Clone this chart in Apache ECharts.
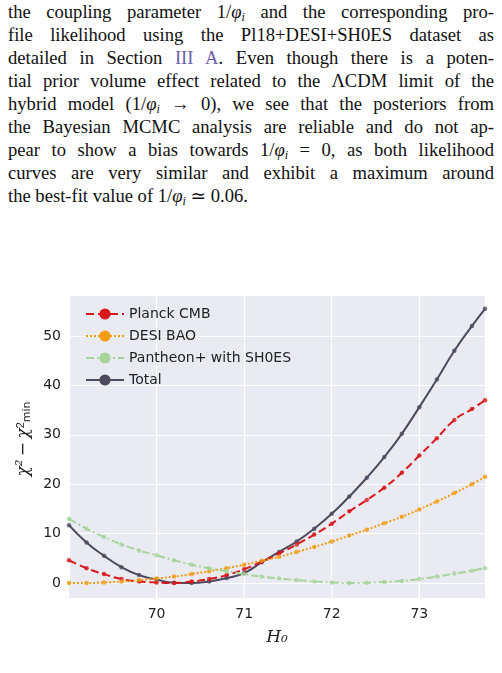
<!DOCTYPE html>
<html><head><meta charset="utf-8">
<script src="https://cdn.jsdelivr.net/npm/echarts@6/dist/echarts.min.js"></script>
<style>
body{margin:0;background:#fff;width:502px;height:673px;overflow:hidden}
#txt{position:absolute;left:8px;top:0;width:486px;font-family:"Liberation Serif","DejaVu Serif",serif;font-size:18.6px;line-height:23px;color:#111}
#txt div{height:23px;text-align:justify;text-align-last:justify;white-space:nowrap;overflow:hidden}
#txt div.last{text-align-last:left}
#txt sub{font-size:12px;line-height:0;vertical-align:-3px}
.ref{color:#6a5fa8}
#chart{position:absolute;left:0;top:280px;width:502px;height:393px}
</style></head><body>
<div id="txt">
<div>the coupling parameter 1/<i>φ<sub>i</sub></i> and the corresponding pro-</div>
<div>file likelihood using the Pl18+DESI+SH0ES dataset as</div>
<div>detailed in Section <span class="ref">III A</span>. Even though there is a poten-</div>
<div>tial prior volume effect related to the ΛCDM limit of the</div>
<div>hybrid model (1/<i>φ<sub>i</sub></i> → 0), we see that the posteriors from</div>
<div>the Bayesian MCMC analysis are reliable and do not ap-</div>
<div>pear to show a bias towards 1/<i>φ<sub>i</sub></i> = 0, as both likelihood</div>
<div>curves are very similar and exhibit a maximum around</div>
<div class="last">the best-fit value of 1/<i>φ<sub>i</sub></i> ≃ 0.06.</div>
</div>
<div id="chart"></div>
<script>
const h0 = [69.0,69.2,69.4,69.6,69.8,70.0,70.2,70.4,70.6,70.8,71.0,71.2,71.4,71.6,71.8,72.0,72.2,72.4,72.6,72.8,73.0,73.2,73.4,73.6,73.75];
const planck = [4.6,3.0,1.8,0.8,0.3,0.1,0,0.3,0.8,1.6,2.8,4.3,6.0,7.8,9.8,12.0,14.5,16.8,19.3,22.3,25.8,29.3,33.0,35.2,37.0];
const desi = [0,0,0.1,0.3,0.6,0.9,1.3,1.8,2.4,3.0,3.7,4.5,5.3,6.3,7.3,8.4,9.6,10.8,12.1,13.4,14.9,16.5,18.2,20.0,21.5];
const pantheon = [13.0,11.0,9.3,7.8,6.6,5.6,4.6,3.7,3.0,2.4,1.8,1.3,0.9,0.6,0.3,0.1,0,0.05,0.2,0.4,0.8,1.3,1.9,2.5,3.0];
const total = [11.7,8.2,5.5,3.2,1.6,0.7,0.05,0,0.3,1.0,2.0,4.2,6.3,8.4,11.0,14.0,17.5,21.3,25.5,30.2,35.6,41.2,47.0,52.0,55.5];
const xTicks = [70,71,72,73];
const names = ['Planck CMB','DESI BAO','Pantheon+ with SH0ES','Total'];
const colors = ['#d7191c','#f39c12','#a6d49a','#4d4a5e'];
const styles = ['dashed','dotted',[8,3,2,3],'solid'];
const values = [planck, desi, pantheon, total];

const chart = echarts.init(document.getElementById('chart'));
const font = 'DejaVu Sans, sans-serif';
const G = {left:69, top:15, width:416, height:288, extra:15};

const lines = names.map((n,i)=>({
  name:n,type:'line',smooth:true,symbol:'none',
  lineStyle:{color:colors[i],type:styles[i],width:2},
  itemStyle:{color:colors[i]},
  z: i===3?3:4,
  data:h0.map((x,j)=>[x,values[i][j]])
}));
const dots = names.map((n,i)=>({
  name:n+' pts',type:'scatter',symbolSize:4.5,clip:false,
  itemStyle:{color:colors[i]},z: i===3?3:4,
  data:h0.map((x,j)=>[x,values[i][j]])
}));

chart.setOption({
  animation:false,
  grid:{left:G.left,top:G.top,width:G.width,height:G.height,show:false},
  legend:{left:80,top:22,orient:'vertical',itemGap:8,itemWidth:38,itemHeight:14,
    textStyle:{fontFamily:font,fontSize:14,color:'#222'},data:names},
  xAxis:{type:'value',min:69.0,max:73.75,interval:1,name:'H\u2080',nameLocation:'middle',nameGap:46,
    nameTextStyle:{fontFamily:'DejaVu Serif',fontStyle:'italic',fontSize:17,color:'#222'},
    axisLine:{show:false},axisTick:{show:false},
    axisLabel:{fontFamily:font,fontSize:14,color:'#222',margin:24,
      formatter:v=>xTicks.includes(v)?String(v):''},
    splitLine:{lineStyle:{color:'#fff',width:1.2}}},
  yAxis:{type:'value',min:0,max:58.3,interval:10,
    name:'{a|χ²} {a|−} {a|χ}{s|2}{b|min}',nameLocation:'middle',nameGap:32,nameRotate:90,
    nameTextStyle:{rich:{a:{fontFamily:'DejaVu Serif',fontStyle:'italic',fontSize:17,color:'#222'},
      s:{fontSize:11,color:'#222',verticalAlign:'top',padding:[0,0,6,0]},
      b:{fontFamily:font,fontSize:11,color:'#222',verticalAlign:'bottom'}}},
    axisLine:{show:false},axisTick:{show:false},
    axisLabel:{fontFamily:font,fontSize:14,color:'#222',margin:8,showMaxLabel:false},
    splitLine:{lineStyle:{color:'#fff',width:1.2}}},
  series: lines.concat(dots)
});
// plot background extends a little below y=0, as in the original
const bg = [{type:'rect',z:-10,shape:{x:G.left,y:G.top,width:G.width,height:G.height+G.extra},style:{fill:'#eaeaf2'}}];
xTicks.forEach(t=>{
  const px = chart.convertToPixel({xAxisIndex:0},t);
  bg.push({type:'line',z:-9,shape:{x1:px,y1:G.top+G.height,x2:px,y2:G.top+G.height+G.extra},style:{stroke:'#fff',lineWidth:1.2}});
});
chart.setOption({graphic:bg});
</script>
</body></html>
